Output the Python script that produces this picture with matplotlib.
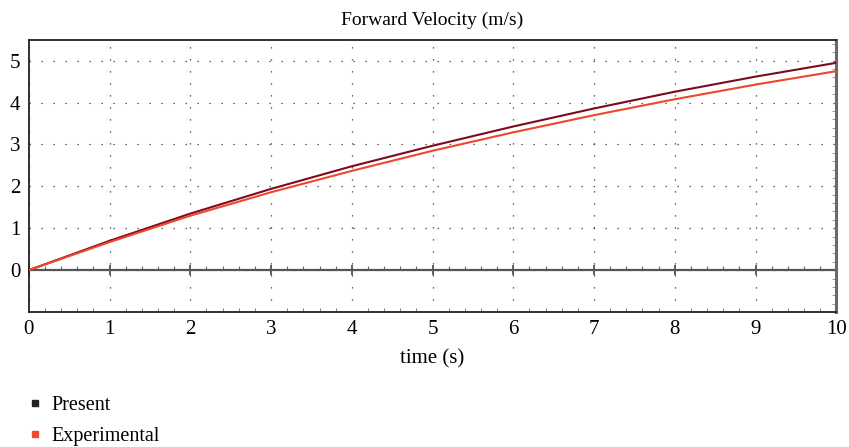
import numpy as np
import matplotlib.pyplot as plt
from matplotlib.lines import Line2D

# values
time_s = [0, 1, 2, 3, 4, 5, 6, 7, 8, 9, 10]
present = [0, 0.70, 1.35, 1.94, 2.48, 2.97, 3.43, 3.86, 4.26, 4.62, 4.95]
experimental = [0, 0.67, 1.30, 1.86, 2.37, 2.85, 3.29, 3.70, 4.08, 4.43, 4.75]
series_names = ["Present", "Experimental"]

plt.rcParams["font.family"] = ["Liberation Serif", "DejaVu Serif"]
plt.rcParams["font.size"] = 15

fig = plt.figure(figsize=(8.49, 4.47), dpi=100)
ax = fig.add_axes([0.034, 0.302, 0.951, 0.609])

ax.plot(time_s, present, color="#7d0b1c", lw=1.5, zorder=3)
ax.plot(time_s, experimental, color="#f0472a", lw=1.5, zorder=3)

ax.set_xlim(0, 10)
ax.set_ylim(-1, 5.5)
ax.set_xticks(np.arange(0, 11, 1))
ax.set_yticks(np.arange(0, 6, 1))
ax.grid(True, color="#333333", lw=0.9, ls=(0, (1, 8.6)))

# zero line with its own tick marks
ax.axhline(0, color="#555555", lw=1.6, zorder=2)
zero_ax = ax.secondary_xaxis(1 / 6.5)
zero_ax.set_xticks(np.arange(0, 11, 1))
zero_ax.set_xticks(np.arange(0, 10.01, 0.2), minor=True)
zero_ax.tick_params(which="major", direction="inout", length=7, width=1.2,
                    color="#444444", labelbottom=False)
zero_ax.tick_params(which="minor", direction="in", length=3, width=0.8,
                    color="#666666")
zero_ax.spines["bottom"].set_visible(False)

for side in ["left", "bottom", "top"]:
    ax.spines[side].set_color("#222222")
    ax.spines[side].set_linewidth(1.3)
ax.spines["right"].set_color("#6a6a6a")
ax.spines["right"].set_linewidth(2.2)

ax.set_xticks(np.arange(0, 10.01, 0.2), minor=True)
ax.set_yticks(np.arange(-1, 5.51, 0.2), minor=True)
ax.tick_params(axis="x", which="major", length=0, pad=6)
ax.tick_params(axis="x", which="minor", direction="in", length=3,
               color="#666666")
ax.tick_params(axis="y", which="major", length=0, pad=6, right=False)
ax.tick_params(axis="y", which="minor", left=False, right=True,
               direction="in", length=3, color="#888888")

ax.set_title("Forward Velocity (m/s)", fontsize=14, pad=11)
ax.set_xlabel("time (s)", labelpad=7)

handles = [
    Line2D([], [], ls="", marker="s", ms=5, color="#222222"),
    Line2D([], [], ls="", marker="s", ms=5, color="#ee4a2c"),
]
fig.legend(handles, series_names, loc="upper left",
           bbox_to_anchor=(0.02, 0.133), frameon=False, fontsize=14.5,
           handlelength=1.0, handletextpad=0.3, labelspacing=0.6,
           borderaxespad=0)

fig.savefig("out.png", dpi=100)
